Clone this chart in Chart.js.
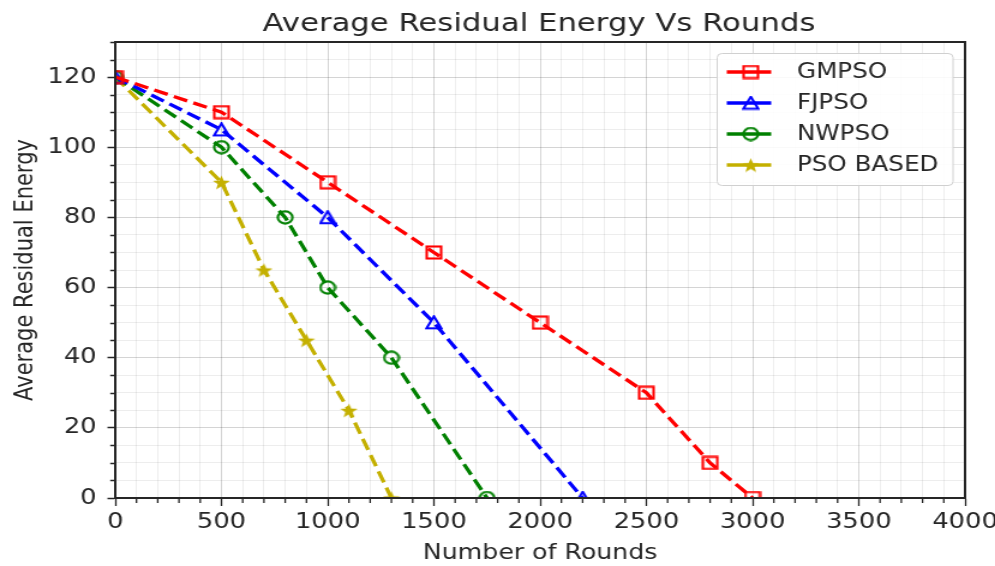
<!DOCTYPE html>
<html><head><meta charset="utf-8">
<script src="https://cdn.jsdelivr.net/npm/chart.js@4.4.1/dist/chart.umd.min.js"></script>
<style>
html,body{margin:0;padding:0;background:#fff;overflow:hidden;}
#wrap{width:829px;height:566px;transform:scaleX(1.2003);transform-origin:0 0;}
</style>
</head><body><div id="wrap"><canvas id="c" width="829" height="566"></canvas></div>
<script>
// ---- data ----
const chartTitle = 'Average Residual Energy Vs Rounds';
const xAxisTitle = 'Number of Rounds';
const yAxisTitle = 'Average Residual Energy';
const seriesNames = ['GMPSO', 'FJPSO', 'NWPSO', 'PSO BASED'];

const gmpsoRounds = [0, 500, 1000, 1500, 2000, 2500, 2800, 3000];
const gmpsoEnergy = [120, 110, 90, 70, 50, 30, 10, 0];

const fjpsoRounds = [0, 500, 1000, 1500, 2200];
const fjpsoEnergy = [120, 105, 80, 50, 0];

const nwpsoRounds = [0, 500, 800, 1000, 1300, 1750];
const nwpsoEnergy = [120, 100, 80, 60, 40, 0];

const psoRounds = [0, 500, 700, 900, 1100, 1300];
const psoEnergy = [120, 90, 65, 45, 25, 0];

const xTickLabels = [0, 500, 1000, 1500, 2000, 2500, 3000, 3500, 4000];
const yTickLabels = [0, 20, 40, 60, 80, 100, 120];

// ---- styling (the original figure is stretched horizontally; the canvas is drawn at 829px and scaled) ----
const FONT = '"DejaVu Sans", sans-serif';
const TEXT = '#262626';
const colors = ['#ff0000', '#0000ff', '#008000', '#c4b000'];

function makeMarker(kind, color) {
  const c = document.createElement('canvas');
  const w = 15, h = 15;
  c.width = w; c.height = h;
  const g = c.getContext('2d');
  g.strokeStyle = color; g.fillStyle = color; g.lineWidth = 2.1;
  if (kind === 'square') {
    g.strokeRect(1.5, 1.5, w - 3, h - 3);
  } else if (kind === 'triangle') {
    g.beginPath(); g.moveTo(w / 2, 1.3); g.lineTo(w - 1.3, h - 1.8); g.lineTo(1.3, h - 1.8); g.closePath(); g.stroke();
  } else if (kind === 'circle') {
    g.beginPath(); g.arc(w / 2, h / 2, w / 2 - 1.4, 0, Math.PI * 2); g.stroke();
  } else if (kind === 'star') {
    g.beginPath();
    for (let i = 0; i < 10; i++) {
      const a = -Math.PI / 2 + i * Math.PI / 5;
      const r = (i % 2 === 0 ? 1 : 0.42) * 7.6;
      const x = w / 2 + Math.cos(a) * r;
      const y = h / 2 + 0.8 + Math.sin(a) * r;
      i === 0 ? g.moveTo(x, y) : g.lineTo(x, y);
    }
    g.closePath(); g.fill();
  }
  return c;
}
const markers = [
  makeMarker('square', colors[0]),
  makeMarker('triangle', colors[1]),
  makeMarker('circle', colors[2]),
  makeMarker('star', colors[3])
];

function toPoints(xs, ys) { return xs.map((x, i) => ({ x: x, y: ys[i] })); }
const seriesData = [
  toPoints(gmpsoRounds, gmpsoEnergy),
  toPoints(fjpsoRounds, fjpsoEnergy),
  toPoints(nwpsoRounds, nwpsoEnergy),
  toPoints(psoRounds, psoEnergy)
];

const datasets = seriesNames.map((name, i) => ({
  label: name,
  data: seriesData[i],
  borderColor: colors[i],
  backgroundColor: colors[i],
  borderWidth: 3.3,
  borderDash: [12, 5.5],
  pointStyle: markers[i],
  pointRadius: 7,
  tension: 0,
  clip: 0,
  fill: false
}));

const PLOT_LEFT = 96, X_AXIS_H = 68;

const framePlugin = {
  id: 'frameAndLegend',
  afterDatasetsDraw(chart) {
    const { ctx, chartArea: a, scales } = chart;
    ctx.save();
    // minor ticks
    ctx.strokeStyle = '#262626';
    ctx.beginPath();
    for (let v = 0; v <= 4000; v += 100) {
      if (xTickLabels.includes(v)) continue;
      const px = scales.x.getPixelForValue(v);
      ctx.moveTo(px, a.bottom); ctx.lineTo(px, a.bottom + 5);
    }
    ctx.lineWidth = 1.3; ctx.stroke();
    ctx.beginPath();
    for (let v = 0; v <= 130; v += 5) {
      if (yTickLabels.includes(v)) continue;
      const py = Math.round(scales.y.getPixelForValue(v)) + 0.5;
      ctx.moveTo(a.left - 4.2, py); ctx.lineTo(a.left, py);
    }
    ctx.lineWidth = 1.5; ctx.stroke();
    // frame
    ctx.strokeStyle = '#262626'; ctx.lineWidth = 2;
    ctx.strokeRect(a.left, a.top, a.right - a.left, a.bottom - a.top);
    // legend
    const lx = 597.5, ly = 53, lw = 196.5, lh = 132;
    ctx.beginPath();
    ctx.roundRect(lx, ly + 0.5, lw, lh, 4);
    ctx.fillStyle = 'rgba(255,255,255,0.85)';
    ctx.fill();
    ctx.strokeStyle = '#d0d0d0'; ctx.lineWidth = 1;
    ctx.stroke();
    ctx.font = '20.5px ' + FONT;
    ctx.textBaseline = 'middle'; ctx.textAlign = 'left';
    seriesNames.forEach((name, i) => {
      const y = 72 + i * 31;
      ctx.strokeStyle = colors[i]; ctx.lineWidth = 3.3; ctx.setLineDash([]);
      ctx.beginPath(); ctx.moveTo(605.5, y); ctx.lineTo(642.5, y); ctx.stroke();
      const m = markers[i];
      ctx.drawImage(m, 625.5 - m.width / 2, y - m.height / 2);
      ctx.fillStyle = TEXT;
      ctx.fillText(name, 664, y + 1);
    });
    ctx.restore();
  },
  afterDraw(chart) {
    const { ctx } = chart;
    ctx.save();
    ctx.font = '25.6px ' + FONT;
    ctx.fillStyle = TEXT;
    ctx.textAlign = 'center'; ctx.textBaseline = 'alphabetic';
    ctx.fillText(chartTitle, 449, 31);
    ctx.restore();
  }
};

new Chart(document.getElementById('c'), {
  type: 'line',
  data: { datasets },
  options: {
    responsive: false,
    animation: false,
    devicePixelRatio: 1,
    layout: { padding: { top: 42, right: 25, left: 0, bottom: 0 } },
    plugins: { legend: { display: false }, title: { display: false }, tooltip: { enabled: false } },
    scales: {
      x: {
        type: 'linear', min: 0, max: 4000,
        afterFit(s) { s.height = X_AXIS_H; s.paddingRight = 0; s.paddingLeft = 0; },
        ticks: {
          stepSize: 100, autoSkip: false, maxRotation: 0, padding: 4,
          color: TEXT, font: { family: FONT, size: 21.5 },
          callback: v => xTickLabels.includes(v) ? String(v) : ''
        },
        grid: {
          color: c => (c.tick && c.tick.value % 500 === 0) ? 'rgba(0,0,0,0.17)' : 'rgba(0,0,0,0.07)',
          lineWidth: 1,
          tickLength: 8,
          tickWidth: 1.3,
          tickColor: c => (c.tick && c.tick.value % 500 === 0) ? '#262626' : 'rgba(0,0,0,0)'
        },
        border: { display: true, color: '#262626', width: 2 },
        title: { display: true, text: xAxisTitle, color: TEXT, font: { family: FONT, size: 21 }, padding: { top: 0, bottom: 0 } }
      },
      y: {
        type: 'linear', min: 0, max: 130,
        afterFit(s) { s.width = PLOT_LEFT; },
        ticks: {
          stepSize: 5, autoSkip: false, padding: 9,
          color: TEXT, font: { family: FONT, size: 21.5 },
          callback: v => yTickLabels.includes(v) ? String(v) : ''
        },
        grid: {
          color: c => (c.tick && c.tick.value % 20 === 0) ? 'rgba(0,0,0,0.17)' : 'rgba(0,0,0,0.07)',
          lineWidth: 1,
          tickLength: 6.5,
          tickWidth: 1.5,
          tickColor: c => (c.tick && c.tick.value % 20 === 0) ? '#262626' : 'rgba(0,0,0,0)'
        },
        border: { display: true, color: '#262626', width: 2 },
        title: { display: true, text: yAxisTitle, color: TEXT, font: { family: FONT, size: 21 }, padding: { top: 9, bottom: 0 } }
      }
    }
  },
  plugins: [framePlugin]
});
</script>
</body></html>
